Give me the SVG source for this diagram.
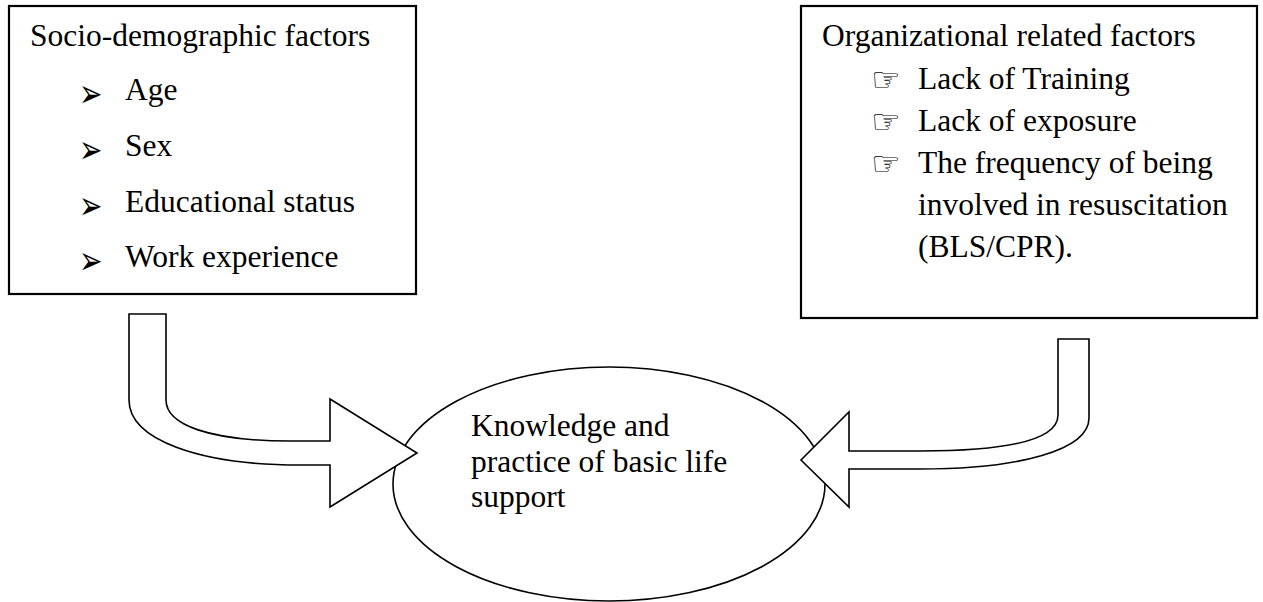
<svg xmlns="http://www.w3.org/2000/svg" width="1263" height="602" viewBox="0 0 1263 602">
<style>
.box{fill:#fff;stroke:#000;stroke-width:2.2}
.shape{fill:#fff;stroke:#000;stroke-width:1.6;stroke-linejoin:miter}
.t{font-family:"Liberation Serif","Times New Roman",serif;font-size:31.5px;fill:#000}
.b{font-family:"DejaVu Sans",sans-serif;fill:#000}
.ar{font-size:28px}
.hd{font-size:33px}
</style>
<rect width="1263" height="602" fill="#fff"/>
<g id="socio">
<rect class="box" x="9" y="6" width="407" height="288"/>
<text class="t" x="30" y="46">Socio-demographic factors</text>
<text class="b ar" transform="translate(79,107) scale(1,1.4)">➢</text>
<text class="t" x="125" y="100">Age</text>
<text class="b ar" transform="translate(79,163) scale(1,1.4)">➢</text>
<text class="t" x="125" y="156">Sex</text>
<text class="b ar" transform="translate(79,219) scale(1,1.4)">➢</text>
<text class="t" x="125" y="212">Educational status</text>
<text class="b ar" transform="translate(79,274) scale(1,1.4)">➢</text>
<text class="t" x="125" y="267">Work experience</text>
</g>
<g id="org">
<rect class="box" x="801" y="6" width="456" height="312"/>
<text class="t" x="822" y="46">Organizational related factors</text>
<text class="b hd" x="871" y="91">☞</text>
<text class="t" x="918" y="89">Lack of Training</text>
<text class="b hd" x="871" y="133">☞</text>
<text class="t" x="918" y="131">Lack of exposure</text>
<text class="b hd" x="871" y="175">☞</text>
<text class="t" x="918" y="173">The frequency of being</text>
<text class="t" x="918" y="215">involved in resuscitation</text>
<text class="t" x="918" y="257">(BLS/CPR).</text>
</g>
<g id="outcome">
<ellipse class="shape" cx="609" cy="484" rx="216" ry="117"/>
<text class="t" x="471" y="436">Knowledge and</text>
<text class="t" x="471" y="472">practice of basic life</text>
<text class="t" x="471" y="507">support</text>
</g>
<g id="connectors">
<path class="shape" d="M129,314 L166,314 L166,400 C166,425 210,441 290,441 L330,441 L330,399 L417,453 L330,507 L330,465 L300,465 C200,465 129,440 129,400 Z"/>
<path class="shape" d="M1058,339 L1089,339 L1089,418 C1089,450 1020,469 920,469 L849,469 L849,507 L801,460 L849,412 L849,451 L920,451 C1010,451 1058,440 1058,415 Z"/>
</g>
</svg>
